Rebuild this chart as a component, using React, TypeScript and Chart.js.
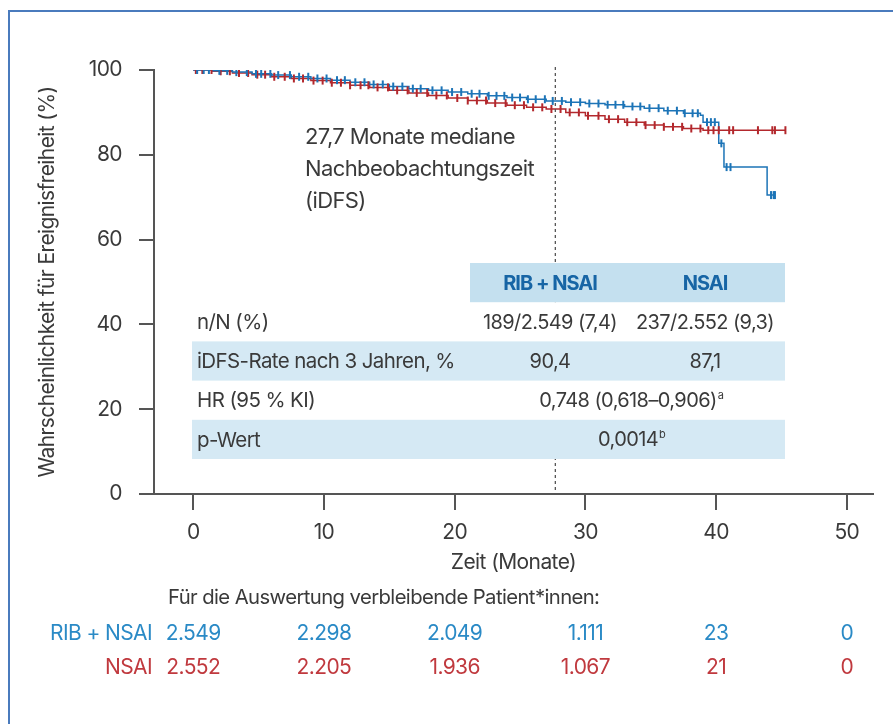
import { useEffect, useRef } from "react";
import { Chart, registerables } from "chart.js";

Chart.register(...registerables);

// ---------- data ----------
const xTicks = [0, 10, 20, 30, 40, 50];
const yTicks = [0, 20, 40, 60, 80, 100];

const ribTimes = [0, 1.5, 3, 4.5, 6, 7.5, 9, 10.5, 12, 13.5, 15, 16.5, 18, 19.5, 21, 22.5, 24, 25.5, 27, 28.5, 30, 31.5, 33, 34.5, 36, 37.5, 38.8, 39.0, 40.2, 40.6, 43.9, 44.5];
const ribSurv = [100, 99.8, 99.5, 99.1, 98.8, 98.4, 98.0, 97.6, 97.1, 96.6, 96.1, 95.6, 95.2, 94.8, 94.4, 93.9, 93.5, 93.1, 92.7, 92.4, 92.1, 91.8, 91.4, 91.0, 90.4, 89.8, 89.3, 87.7, 82.7, 77.1, 70.5, 70.5];

const nsaiTimes = [0, 1.5, 3, 4.5, 6, 7.5, 9, 10.5, 12, 13.5, 15, 16.5, 18, 19.5, 21, 22.5, 24, 25.5, 27, 28.5, 30, 31.5, 33, 34.5, 36, 37.5, 39, 45.3];
const nsaiSurv = [100, 99.7, 99.3, 98.9, 98.4, 98.0, 97.5, 97.0, 96.4, 95.9, 95.2, 94.6, 94.0, 93.4, 92.8, 92.2, 91.7, 91.2, 90.8, 90.0, 89.2, 88.4, 87.7, 87.0, 86.6, 86.2, 85.8, 85.8];

const ribCensor = [0.3, 0.8, 1.2, 2, 2.6, 3.3, 4.1, 4.8, 5.2, 5.9, 6.5, 7.4, 8.1, 8.8, 9.5, 10.2, 11, 11.6, 12.4, 13.1, 13.8, 14.5, 15.3, 16, 16.8, 17.4, 18.3, 19, 19.8, 20.5, 21.3, 21.9, 22.6, 23.2, 23.8, 24.4, 25, 25.6, 26.2, 26.9, 27.5, 28.2, 28.9, 29.6, 30.3, 31, 31.7, 32.3, 32.9, 33.6, 34.2, 34.9, 35.6, 36.3, 37, 37.6, 38.2, 38.6, 39.3, 39.6, 39.9, 40.4, 40.8, 41.1, 44.2, 44.4, 44.5];
const nsaiCensor = [0.2, 0.7, 1.4, 2.1, 2.8, 3.5, 4.2, 4.9, 5.5, 6.2, 7, 7.7, 8.4, 9.2, 9.9, 10.6, 11.3, 12, 12.8, 13.4, 14.1, 14.9, 15.6, 16.4, 17.1, 17.9, 18.6, 19.4, 20.2, 21, 21.7, 22.4, 23.1, 23.9, 24.6, 25.3, 26, 26.7, 27.4, 28.1, 28.8, 29.5, 30.2, 31, 31.8, 32.5, 33.2, 33.9, 34.6, 35.3, 36, 36.7, 37.4, 38.1, 38.8, 39.4, 39.8, 40.2, 41, 41.3, 43.2, 44.3, 44.5, 45.3];

const atRiskRib = ["2.549", "2.298", "2.049", "1.111", "23", "0"];
const atRiskNsai = ["2.552", "2.205", "1.936", "1.067", "21", "0"];

const tableHeader = ["RIB + NSAI", "NSAI"];
const tableLabels = ["n/N (%)", "iDFS-Rate nach 3 Jahren, %", "HR (95 % KI)", "p-Wert"];
const tableRib = ["189/2.549 (7,4)", "90,4"];
const tableNsai = ["237/2.552 (9,3)", "87,1"];
const tableMerged = ["0,748 (0,618–0,906)", "0,0014"];
const tableMergedSup = ["a", "b"];

const medianFollowUp = 27.7;
const annotationLines = ["27,7 Monate mediane", "Nachbeobachtungszeit", "(iDFS)"];

// ---------- style ----------
const FONT = "Inter, Roboto, 'Liberation Sans', sans-serif";
const SPACING = "-0.6px";
const TEXT = "#3a3a3a";
const AXIS = "#555555";
const BLUE = "#1c74b7";
const RED = "#b3282d";
const BLUE_TXT = "#2a8ac6";
const RED_TXT = "#c0393e";
const HEAD_BG = "#c4e0ef";
const ROW_BG = "#d5e9f4";
const HEAD_TXT = "#1765a5";
const FRAME = "#4a7bbd";

function survAt(times: number[], surv: number[], t: number) {
  let v = surv[0];
  for (let i = 0; i < times.length; i++) if (times[i] <= t) v = surv[i];
  return v;
}

const spacing = {
  id: "spacing",
  beforeDraw(chart: any) {
    (chart.ctx as any).letterSpacing = SPACING;
  },
};

const overlay = {
  id: "overlay",
  afterDatasetsDraw(chart: any) {
    const ctx = chart.ctx as CanvasRenderingContext2D;
    const xs = chart.scales.x;
    const ys = chart.scales.y;
    ctx.save();
    (ctx as any).letterSpacing = SPACING;

    // frame
    ctx.strokeStyle = FRAME;
    ctx.lineWidth = 2;
    ctx.beginPath();
    ctx.moveTo(9, 724);
    ctx.lineTo(9, 11);
    ctx.lineTo(893, 11);
    ctx.stroke();

    // dashed median line
    const mx = xs.getPixelForValue(medianFollowUp);
    ctx.strokeStyle = AXIS;
    ctx.lineWidth = 1.3;
    ctx.setLineDash([3, 3]);
    ctx.beginPath();
    ctx.moveTo(mx, ys.getPixelForValue(100) - 3);
    ctx.lineTo(mx, ys.getPixelForValue(0));
    ctx.stroke();
    ctx.setLineDash([]);

    // annotation
    ctx.fillStyle = TEXT;
    ctx.font = `22px ${FONT}`;
    ctx.textAlign = "left";
    ctx.textBaseline = "middle";
    annotationLines.forEach((l, i) => ctx.fillText(l, 305, 137 + i * 32));

    // table
    const tL = 192, tR = 785, hL = 470;
    const rowTop = 263, rowH = 39.2;
    const c1 = 550, c2 = 705, cm = 628;
    ctx.fillStyle = "#ffffff";
    ctx.fillRect(hL, rowTop, tR - hL, rowH);
    ctx.fillRect(tL, rowTop + rowH, tR - tL, rowH * 4);
    ctx.fillStyle = HEAD_BG;
    ctx.fillRect(hL, rowTop, tR - hL, rowH);
    ctx.fillStyle = ROW_BG;
    ctx.fillRect(tL, rowTop + rowH * 2, tR - tL, rowH);
    ctx.fillRect(tL, rowTop + rowH * 4, tR - tL, rowH);

    const cy = (r: number) => rowTop + rowH * r + rowH / 2 + 1;
    ctx.fillStyle = HEAD_TXT;
    ctx.font = `bold 20px ${FONT}`;
    (ctx as any).letterSpacing = "-1px";
    ctx.textAlign = "center";
    ctx.fillText(tableHeader[0], c1, cy(0));
    ctx.fillText(tableHeader[1], c2, cy(0));
    (ctx as any).letterSpacing = SPACING;

    ctx.fillStyle = TEXT;
    ctx.font = `20.5px ${FONT}`;
    tableLabels.forEach((l, i) => {
      ctx.textAlign = "left";
      ctx.fillText(l, 197, cy(i + 1));
    });
    ctx.font = `20px ${FONT}`;
    ctx.textAlign = "center";
    tableRib.forEach((v, i) => ctx.fillText(v, c1, cy(i + 1)));
    tableNsai.forEach((v, i) => ctx.fillText(v, c2, cy(i + 1)));
    tableMerged.forEach((v, i) => {
      ctx.font = `20px ${FONT}`;
      const w = ctx.measureText(v).width;
      ctx.textAlign = "center";
      ctx.fillText(v, cm, cy(i + 3));
      ctx.font = `11px ${FONT}`;
      ctx.textAlign = "left";
      ctx.fillText(tableMergedSup[i], cm + w / 2 + 1, cy(i + 3) - 6);
    });

    // numbers at risk
    ctx.fillStyle = TEXT;
    ctx.textAlign = "left";
    ctx.font = `20.3px ${FONT}`;
    ctx.fillText("Für die Auswertung verbleibende Patient*innen:", 168, 598);
    ctx.font = `21px ${FONT}`;
    ctx.textAlign = "right";
    ctx.fillStyle = BLUE_TXT;
    ctx.fillText("RIB + NSAI", 152, 634);
    ctx.fillStyle = RED_TXT;
    ctx.fillText("NSAI", 152, 668);
    ctx.textAlign = "center";
    xTicks.forEach((t, i) => {
      const px = xs.getPixelForValue(t);
      ctx.fillStyle = BLUE_TXT;
      ctx.fillText(atRiskRib[i], px, 634);
      ctx.fillStyle = RED_TXT;
      ctx.fillText(atRiskNsai[i], px, 668);
    });
    ctx.restore();
  },
};

export default function App() {
  const ref = useRef<HTMLCanvasElement>(null);
  useEffect(() => {
    if (!ref.current) return;
    const font = { family: FONT, size: 21 };
    const chart = new Chart(ref.current, {
      type: "line",
      data: {
        datasets: [
          {
            label: "RIB + NSAI censor",
            type: "scatter",
            data: ribCensor.map((t) => ({ x: t, y: survAt(ribTimes, ribSurv, t) })),
            showLine: false,
            pointStyle: "line",
            rotation: 90,
            radius: 4,
            borderWidth: 2,
            borderColor: BLUE,
            backgroundColor: BLUE,
            order: 1,
          } as any,
          {
            label: "NSAI censor",
            type: "scatter",
            data: nsaiCensor.map((t) => ({ x: t, y: survAt(nsaiTimes, nsaiSurv, t) })),
            showLine: false,
            pointStyle: "line",
            rotation: 90,
            radius: 4,
            borderWidth: 2,
            borderColor: RED,
            backgroundColor: RED,
            order: 2,
          } as any,
          {
            label: "RIB + NSAI",
            data: ribTimes.map((t, i) => ({ x: t, y: ribSurv[i] })),
            stepped: true,
            borderColor: BLUE,
            borderWidth: 1.5,
            pointRadius: 0,
            fill: false,
            order: 3,
          },
          {
            label: "NSAI",
            data: nsaiTimes.map((t, i) => ({ x: t, y: nsaiSurv[i] })),
            stepped: true,
            borderColor: RED,
            borderWidth: 1.5,
            pointRadius: 0,
            fill: false,
            order: 4,
          },
        ],
      },
      options: {
        responsive: false,
        animation: false,
        layout: { padding: { left: 0, top: 70, right: 20, bottom: 0 } },
        plugins: { legend: { display: false }, tooltip: { enabled: false } },
        scales: {
          x: {
            type: "linear",
            min: -3,
            max: 52,
            afterBuildTicks: (s: any) => {
              s.ticks = xTicks.map((v) => ({ value: v }));
            },
            afterFit: (s: any) => {
              s.height = 230;
            },
            grid: { drawOnChartArea: false, drawTicks: true, tickLength: 16, color: AXIS, lineWidth: 2 },
            border: { display: true, color: AXIS, width: 2 },
            ticks: { padding: 10, font, color: TEXT, autoSkip: false, maxRotation: 0 },
            title: { display: true, text: "Zeit (Monate)", font, color: TEXT, padding: { top: 0, bottom: 149 } },
          },
          y: {
            min: 0,
            max: 100,
            afterBuildTicks: (s: any) => {
              s.ticks = yTicks.map((v) => ({ value: v }));
            },
            afterFit: (s: any) => {
              s.width = 154;
            },
            grid: { drawOnChartArea: false, drawTicks: true, tickLength: 15, color: AXIS, lineWidth: 2 },
            border: { display: true, color: AXIS, width: 2 },
            ticks: { padding: 17, font, color: TEXT },
            title: {
              display: true,
              text: "Wahrscheinlichkeit für Ereignisfreiheit (%)",
              font,
              color: TEXT,
              padding: { top: 35, bottom: 0 },
            },
          },
        },
      },
      plugins: [spacing, overlay],
    });
    return () => chart.destroy();
  }, []);
  return (
    <canvas
      ref={ref}
      width={893}
      height={724}
      style={{ position: "absolute", left: 0, top: 0, width: 893, height: 724 }}
    />
  );
}
